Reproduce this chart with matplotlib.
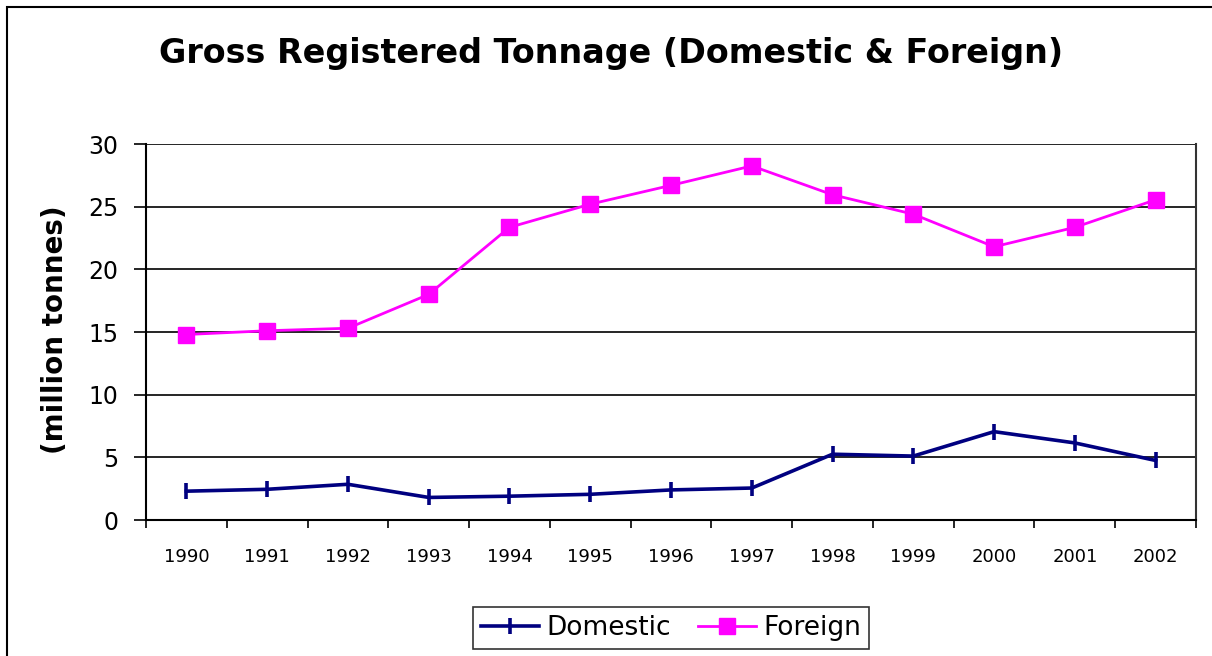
import numpy as np
import matplotlib.pyplot as plt
from matplotlib.patches import Rectangle

# Dane
years = ['1990', '1991', '1992', '1993', '1994', '1995', '1996',
         '1997', '1998', '1999', '2000', '2001', '2002']
domestic = [2.3, 2.45, 2.85, 1.8, 1.9, 2.05, 2.4, 2.55, 5.25, 5.1, 7.05, 6.15, 4.75]
foreign = [14.8, 15.1, 15.3, 18.0, 23.35, 25.2, 26.7, 28.25, 25.95, 24.4, 21.8, 23.35, 25.55]

fig = plt.figure(figsize=(12.12, 6.56), dpi=100)
ax = fig.add_axes([146/1212, 1 - 520/656, (1196 - 146)/1212, (520 - 144)/656])

x = np.arange(len(years))
ax.plot(x, domestic, color='#000080', linewidth=2.6, marker='|',
        markersize=12, markeredgewidth=2.6, label='Domestic')
ax.plot(x, foreign, color='#FF00FF', linewidth=2.0, marker='s',
        markersize=11, label='Foreign')

# Osie
ax.set_ylim(0, 30)
ax.set_yticks(range(0, 31, 5))
ax.set_xlim(-0.5, len(years) - 0.5)
ax.set_xticks(np.arange(-0.5, len(years), 1.0))
ax.set_xticklabels([])
ax.set_xticks(x, minor=True)
ax.set_xticklabels(years, minor=True, fontsize=13)
ax.tick_params(axis='x', which='major', direction='out', length=6, width=1.2)
ax.tick_params(axis='x', which='minor', length=0, pad=20)
ax.tick_params(axis='y', direction='out', length=9, width=1.2, labelsize=17, pad=11)
ax.grid(axis='y', color='black', linewidth=1.2)
ax.set_axisbelow(True)
for side in ['left', 'bottom']:
    ax.spines[side].set_linewidth(1.5)
ax.spines['right'].set_color('#333333')
ax.spines['right'].set_linewidth(1.5)
ax.spines['top'].set_visible(False)

fig.text(55/1212, 1 - 330/656, '(million tonnes)', rotation=90, fontsize=20,
         fontweight='bold', ha='center', va='center')
fig.text(611/1212, 1 - 54/656, 'Gross Registered Tonnage (Domestic & Foreign)',
         fontsize=24, fontweight='bold', ha='center', va='center')

leg = fig.legend(loc='center', bbox_to_anchor=(671/1212, 1 - 628/656), ncol=2,
                 fontsize=19, frameon=True, fancybox=False, edgecolor='black',
                 handlelength=2.2, handletextpad=0.3, columnspacing=1.0,
                 borderpad=0.3)
leg.get_frame().set_linewidth(1.2)

# Ramka wykresu
fig.patches.append(Rectangle((7/1212, -0.1), 1.2, 1 - 7/656 + 0.1,
                             transform=fig.transFigure, fill=False,
                             edgecolor='black', linewidth=1.5))

fig.savefig('out.png', dpi=100)
